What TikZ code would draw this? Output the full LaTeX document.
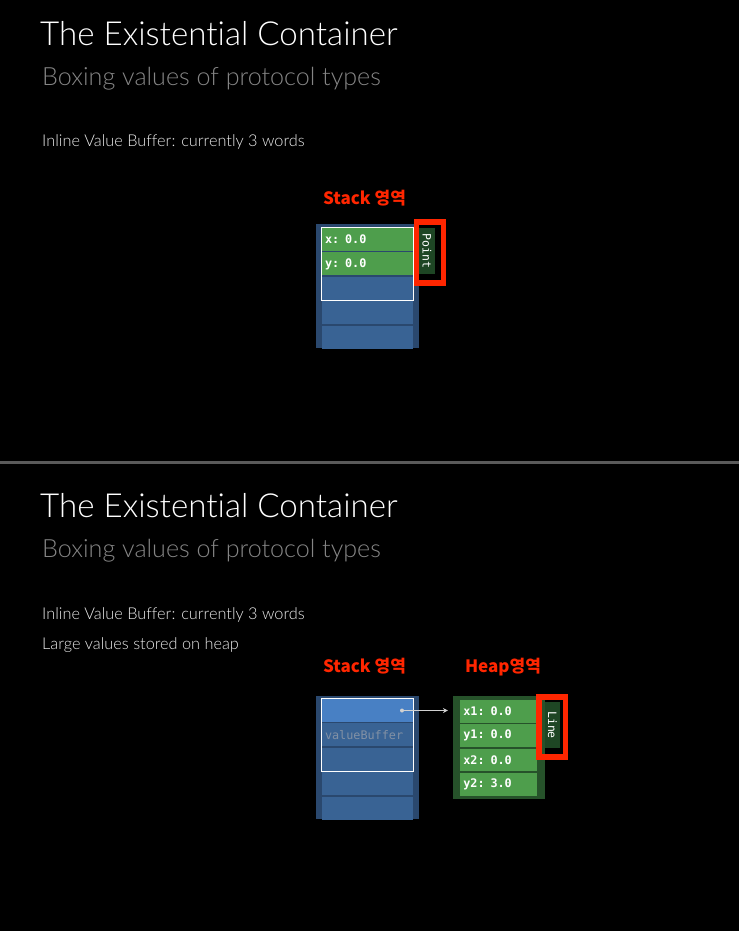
\documentclass[tikz,border=0pt]{standalone}
\usepackage{fontspec}
\usepackage{xcolor}
\usetikzlibrary{positioning, fit, arrows.meta}
\newfontfamily\slidefont{Lato Light}[Ligatures=NoCommon]
\newfontfamily\krfont{Noto Sans CJK KR}
\setmonofont{DejaVu Sans Mono}
\definecolor{stackblue}{HTML}{2A486E}
\definecolor{slotblue}{HTML}{396394}
\definecolor{liveblue}{HTML}{4880C4}
\definecolor{fieldgreen}{HTML}{4E9E4C}
\definecolor{heapgreen}{HTML}{26522A}
\definecolor{taggreen}{HTML}{1E4624}
\definecolor{markred}{HTML}{FF2600}
\definecolor{subgray}{HTML}{858585}
\definecolor{bufgray}{HTML}{8291A5}
\definecolor{sepgray}{HTML}{5A5A5A}

\begin{document}
\begin{tikzpicture}[
  x=1pt, y=-1pt,
  title/.style={anchor=base west, inner sep=0pt, text=white, font=\slidefont\fontsize{33.1}{40}\selectfont},
  subtitle/.style={anchor=base west, inner sep=0pt, text=subgray, font=\slidefont\fontsize{25.1}{28}\selectfont},
  bullet/.style={anchor=base west, inner sep=0pt, text=white!92!black, font=\slidefont\fontsize{16.3}{20}\selectfont},
  region/.style={anchor=base, inner sep=0pt, text=markred, font=\krfont\bfseries\fontsize{17}{19}\selectfont},
  frame/.style={fill=stackblue, minimum width=103pt, inner sep=0pt},
  slot/.style={fill=slotblue, minimum height=23pt, text width=85pt, inner xsep=3pt, inner ysep=0pt, align=left, text=white, font=\ttfamily\bfseries\fontsize{11.8}{12}\selectfont},
  field/.style={slot, fill=fieldgreen},
  heapfield/.style={field, text width=71pt, minimum height=22.5pt},
  valuebox/.style={draw=white, line width=1pt, inner sep=0pt},
  tag/.style={fill=taggreen, text=white, rotate=-90, inner sep=0pt, minimum width=46pt, minimum height=16pt, font=\ttfamily\fontsize{11.5}{12}\selectfont},
  redmark/.style={draw=markred, line width=5.5pt, minimum width=27pt, minimum height=61pt, inner sep=0pt},
  pointer/.style={draw=white!82!black, line width=1.1pt, -{Stealth[length=5pt, width=5pt]}, shorten >=4.5pt}
]
  \fill[black] (0,0) rectangle (739,931);
  \useasboundingbox (0,0) rectangle (739,931);

  % Top slide: inline value
  \node[title] (title1) at (40,46) {The Existential Container};
  \node[subtitle] (sub1) at (42,86) {Boxing values of protocol types};
  \node[bullet] (note1) at (42,146.7) {Inline Value Buffer: currently 3 words};
  \node[region] (stacklabel1) at (364.5,204) {Stack 영역};

  \node[frame, minimum height=124pt] (stack1) at (367.5,286) {};
  \node[field, below=4pt of stack1.north] (s11) {x: 0.0};
  \node[field, below=1pt of s11] (s12) {y: 0.0};
  \node[slot, below=1pt of s12] (s13) {};
  \node[slot, below=1pt of s13] (s14) {};
  \node[slot, below=1pt of s14] (s15) {};
  \node[valuebox, fit=(s11)(s13)] (buf1) {};
  \node[tag] (tag1) at (427,251) {Point};
  \node[redmark] (mark1) at (430,252.5) {};

  % divider between the two slides
  \fill[sepgray] (0,461) rectangle (739,464);

  % Bottom slide: value boxed on the heap
  \node[title] (title2) at (40,517) {The Existential Container};
  \node[subtitle] (sub2) at (42,557) {Boxing values of protocol types};
  \node[bullet] (note2) at (42,619) {Inline Value Buffer: currently 3 words};
  \node[bullet] (note3) at (42,649.3) {Large values stored on heap};
  \node[region] (stacklabel2) at (364.5,672) {Stack 영역};
  \node[region] (heaplabel) at (503,672) {Heap영역};

  \node[frame, minimum height=123pt] (stack2) at (367.5,757.5) {};
  \node[slot, fill=liveblue, below=3pt of stack2.north] (s21) {};
  \node[slot, below=1pt of s21, text=bufgray, font=\ttfamily\fontsize{11.8}{12}\selectfont] (s22) {valueBuffer};
  \node[slot, below=1pt of s22] (s23) {};
  \node[slot, below=1pt of s23] (s24) {};
  \node[slot, below=1pt of s24] (s25) {};
  \node[valuebox, fit=(s21)(s23)] (buf2) {};

  \node[frame, fill=heapgreen, minimum width=92.3pt, minimum height=103pt] (heap) at (498.8,747.5) {};
  \node[heapfield, below=4pt of heap.north] (h1) {x1: 0.0};
  \node[heapfield, below=1.5pt of h1] (h2) {y1: 0.0};
  \node[heapfield, below=1.5pt of h2] (h3) {x2: 0.0};
  \node[heapfield, below=1.5pt of h3] (h4) {y2: 3.0};
  \node[tag, minimum height=15pt] (tag2) at (552.5,725) {Line};
  \node[redmark, minimum width=26.5pt, minimum height=60pt] (mark2) at (552.2,727) {};

  \coordinate (ptr) at (402,710.5);
  \fill[white!82!black] (ptr) circle (2pt);
  \draw[pointer] (ptr) -- (ptr -| heap.west);
\end{tikzpicture}
\end{document}
